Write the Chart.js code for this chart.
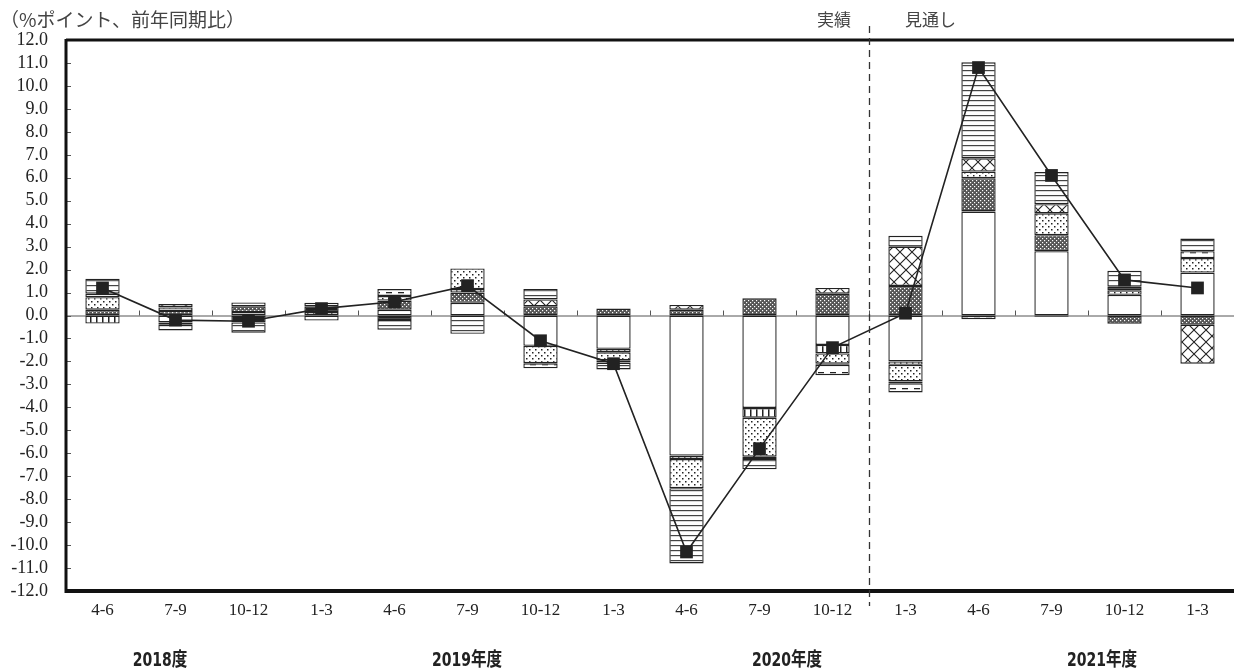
<!DOCTYPE html>
<html>
<head>
<meta charset="utf-8">
<script src="https://cdn.jsdelivr.net/npm/chart.js@4.4.1/dist/chart.umd.min.js"></script>
<style>
html, body { margin: 0; padding: 0; background: #fff; overflow: hidden; width: 1234px; height: 672px; }
#wrap { position: absolute; left: 0; top: 0; width: 1243px; height: 672px; }
.note { position: absolute; font-family: "Noto Sans CJK JP"; font-size: 17px; color: #444; white-space: nowrap; line-height: 1; }
.yr { position: absolute; top: 650px; transform: translateX(-50%) scaleX(0.82); font-family: "Liberation Sans Narrow", "DejaVu Sans Condensed", "Noto Sans CJK JP"; font-weight: 600; font-size: 19px; color: #222; white-space: nowrap; line-height: 1; }
</style>
</head>
<body>
<div id="wrap"><canvas id="c"></canvas></div>
<div class="note" style="left:0px;top:9px;font-size:19px;">（%ポイント、前年同期比）</div>
<div class="note" style="left:817px;top:10px;">実績</div>
<div class="note" style="left:905px;top:10px;">見通し</div>
<div class="yr" style="left:160px;">2018度</div>
<div class="yr" style="left:467px;">2019年度</div>
<div class="yr" style="left:787px;">2020年度</div>
<div class="yr" style="left:1102px;">2021年度</div>
<script>
// quarters (x axis)
var quarters = ["4-6", "7-9", "10-12", "1-3", "4-6", "7-9", "10-12", "1-3",
                "4-6", "7-9", "10-12", "1-3", "4-6", "7-9", "10-12", "1-3"];
var yTicks = [-12, 12, 1]; // min, max, step

// contributions (%pt)
var consumption = [0, -0.3, 0.15, -0.22, 0.25, 0.55, -1.32, -1.45, -6.1, -4.03, -1.28, -2.0, 4.53, 2.8, 0.9, 1.87];
var govt        = [0.25, 0.2, 0.25, 0, 0.4, 0.45, 0.4, 0.3, 0.25, 0.75, 0.95, 1.29, 1.45, 0.7, -0.36, -0.4];
var housing     = [-0.35, -0.1, 0, 0, 0, 0.15, 0, -0.15, -0.15, -0.42, -0.37, -0.15, 0, 0, 0, 0];
var capex       = [0.55, 0.15, 0, 0.15, 0.2, 0.9, -0.76, -0.35, -1.27, -1.7, -0.45, -0.72, 0.29, 0.95, 0.2, 0.63];
var publicInv   = [0, 0.15, 0, 0, 0, 0, 0.3, 0, 0.21, 0, 0.25, 1.71, 0.58, 0.4, 0, -1.7];
var inventory   = [0, 0, -0.3, 0.25, -0.2, 0, 0, -0.1, 0, -0.1, -0.05, -0.08, 0, -0.05, 0.15, 0];
var imports     = [0.15, 0, 0.17, 0, 0.3, 0, -0.22, 0, 0, 0, -0.45, -0.4, -0.16, 0, 0, 0.3];
var exports     = [0.65, -0.25, -0.45, 0.15, -0.42, -0.8, 0.45, -0.3, -3.28, -0.45, 0, 0.47, 4.18, 1.4, 0.7, 0.55];
var gdp         = [1.2, -0.2, -0.25, 0.3, 0.6, 1.3, -1.1, -2.1, -10.3, -5.8, -1.4, 0.1, 10.8, 6.1, 1.55, 1.2];

var canvas = document.getElementById("c");
var mainCtx = canvas.getContext("2d");

// little tiles for the black & white fills
function tile(w, h, draw) {
  var t = document.createElement("canvas");
  t.width = w; t.height = h;
  var g = t.getContext("2d");
  g.fillStyle = "#fff";
  g.fillRect(0, 0, w, h);
  g.fillStyle = "#222";
  g.strokeStyle = "#222";
  draw(g);
  return mainCtx.createPattern(t, "repeat");
}

var lightDots = tile(6, 6, function (g) {
  g.fillRect(1, 1, 1.5, 1.5);
  g.fillRect(4, 4, 1.5, 1.5);
});
var darkDots = tile(4, 4, function (g) {
  g.fillStyle = "#555";
  g.fillRect(0, 0, 4, 4);
  g.fillStyle = "#fff";
  g.fillRect(0, 0, 1.2, 1.2);
  g.fillRect(2, 2, 1.2, 1.2);
});
var vLines = tile(6, 2, function (g) { g.fillRect(0, 0, 1.5, 2); });
var hLines = tile(2, 5, function (g) { g.fillStyle = "#444"; g.fillRect(0, 0, 2, 1.2); });
var cross = tile(12, 12, function (g) {
  g.lineWidth = 1.1;
  g.beginPath();
  g.moveTo(0, 0); g.lineTo(12, 12);
  g.moveTo(12, 0); g.lineTo(0, 12);
  g.stroke();
});
var dashes = tile(12, 8, function (g) { g.fillRect(2, 4, 6, 1.3); });

function nz(arr) { return arr.map(function (v) { return v === 0 ? null : v; }); }

function barSet(label, values, fill) {
  return {
    type: "bar", label: label, data: nz(values), backgroundColor: fill,
    borderColor: "#222", borderWidth: 1.4, borderSkipped: false,
    barPercentage: 0.47, categoryPercentage: 1, stack: "parts", order: 1
  };
}

var deco = {
  id: "deco",
  beforeDatasetsDraw: function (chart) {
    var ctx = chart.ctx, a = chart.chartArea, y = chart.scales.y;
    var y0 = y.getPixelForValue(0);
    var cw = (a.right - a.left) / quarters.length;
    ctx.save();
    ctx.strokeStyle = "#555";
    ctx.lineWidth = 1;
    ctx.beginPath();
    ctx.moveTo(a.left, y0 + 0.5); ctx.lineTo(a.right, y0 + 0.5);
    for (var i = 1; i < quarters.length; i++) {
      var x = Math.round(a.left + i * cw) + 0.5;
      ctx.moveTo(x, y0); ctx.lineTo(x, y0 - 5);
    }
    for (var v = yTicks[0]; v <= yTicks[1]; v += yTicks[2]) {
      var py = Math.round(y.getPixelForValue(v)) + 0.5;
      ctx.moveTo(a.left, py); ctx.lineTo(a.left + 5, py);
    }
    ctx.stroke();
    ctx.restore();
  },
  afterDraw: function (chart) {
    var ctx = chart.ctx, a = chart.chartArea;
    var cw = (a.right - a.left) / quarters.length;
    ctx.save();
    ctx.strokeStyle = "#111";
    ctx.lineWidth = 3;
    ctx.beginPath();
    ctx.moveTo(a.left, a.top - 1); ctx.lineTo(a.left, a.bottom + 2);
    ctx.moveTo(a.left, a.top); ctx.lineTo(a.right, a.top);
    ctx.stroke();
    ctx.lineWidth = 4;
    ctx.beginPath();
    ctx.moveTo(a.left, a.bottom); ctx.lineTo(a.right, a.bottom);
    ctx.stroke();
    // 実績 / 見通し divider
    var xd = Math.round(a.left + 11 * cw) + 0.5;
    ctx.strokeStyle = "#333";
    ctx.lineWidth = 1.3;
    ctx.setLineDash([7, 5]);
    ctx.beginPath();
    ctx.moveTo(xd, 26); ctx.lineTo(xd, 606);
    ctx.stroke();
    ctx.restore();
  }
};

new Chart(canvas, {
  data: {
    labels: quarters,
    datasets: [
      barSet("個人消費", consumption, "#fff"),
      barSet("政府消費", govt, darkDots),
      barSet("住宅投資", housing, vLines),
      barSet("設備投資", capex, lightDots),
      barSet("公共投資", publicInv, cross),
      barSet("在庫", inventory, "#222"),
      barSet("輸入", imports, dashes),
      barSet("輸出", exports, hLines),
      {
        type: "line", label: "実質GDP", data: gdp, stack: "total", order: 0,
        borderColor: "#222", borderWidth: 1.6, tension: 0,
        pointStyle: "rect", pointRadius: 9, pointBackgroundColor: "#222", pointBorderWidth: 0
      }
    ]
  },
  options: {
    responsive: true,
    maintainAspectRatio: false,
    animation: false,
    layout: { padding: { top: 40, left: 0, right: 0, bottom: 0 } },
    plugins: { legend: { display: false }, tooltip: { enabled: false } },
    scales: {
      x: {
        stacked: true,
        grid: { display: false, drawTicks: false },
        border: { display: false },
        ticks: { color: "#222", font: { family: "Liberation Serif", size: 17 }, padding: 9, maxRotation: 0, autoSkip: false },
        afterFit: function (s) { s.height = 81; }
      },
      y: {
        stacked: true,
        min: yTicks[0], max: yTicks[1],
        grid: { display: false, drawTicks: false },
        border: { display: false },
        ticks: {
          stepSize: yTicks[2], autoSkip: false, color: "#222", padding: 18,
          font: { family: "Liberation Serif", size: 18 },
          callback: function (v) { return v.toFixed(1); }
        },
        afterFit: function (s) { s.width = 66; }
      }
    }
  },
  plugins: [deco]
});
</script>
</body>
</html>
